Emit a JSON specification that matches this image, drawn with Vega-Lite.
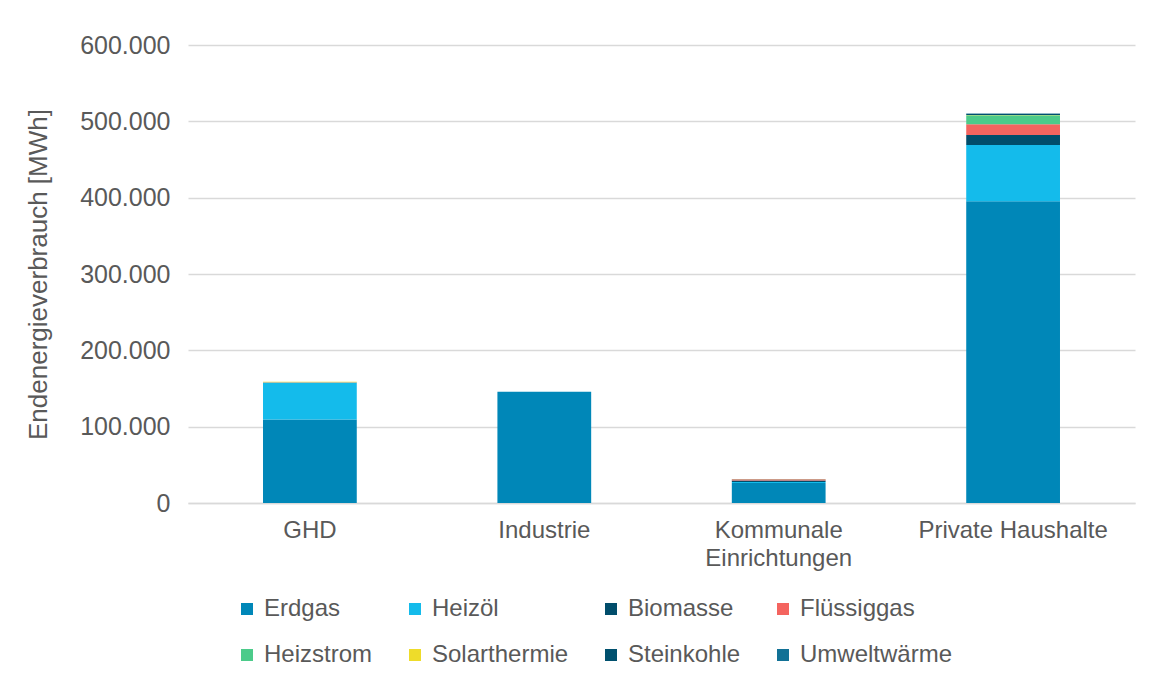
{
  "$schema": "https://vega.github.io/schema/vega-lite/v6.json",
  "width": 947,
  "height": 458,
  "autosize": {"type": "none"},
  "padding": {"left": 188, "top": 45, "right": 14, "bottom": 177},
  "background": "white",
  "data": {
    "values": [
      {"sektor": "GHD", "traeger": "Erdgas", "idx": 1, "mwh": 109500},
      {"sektor": "GHD", "traeger": "Heizöl", "idx": 2, "mwh": 48300},
      {"sektor": "GHD", "traeger": "Flüssiggas", "idx": 4, "mwh": 300},
      {"sektor": "GHD", "traeger": "Solarthermie", "idx": 6, "mwh": 700},
      {"sektor": "Industrie", "traeger": "Erdgas", "idx": 1, "mwh": 145800},
      {"sektor": "Kommunale Einrichtungen", "traeger": "Erdgas", "idx": 1, "mwh": 26100},
      {"sektor": "Kommunale Einrichtungen", "traeger": "Heizöl", "idx": 2, "mwh": 1400},
      {"sektor": "Kommunale Einrichtungen", "traeger": "Biomasse", "idx": 3, "mwh": 2000},
      {"sektor": "Kommunale Einrichtungen", "traeger": "Flüssiggas", "idx": 4, "mwh": 1500},
      {"sektor": "Kommunale Einrichtungen", "traeger": "Heizstrom", "idx": 5, "mwh": 500},
      {"sektor": "Private Haushalte", "traeger": "Erdgas", "idx": 1, "mwh": 395400},
      {"sektor": "Private Haushalte", "traeger": "Heizöl", "idx": 2, "mwh": 73600},
      {"sektor": "Private Haushalte", "traeger": "Biomasse", "idx": 3, "mwh": 13100},
      {"sektor": "Private Haushalte", "traeger": "Flüssiggas", "idx": 4, "mwh": 14000},
      {"sektor": "Private Haushalte", "traeger": "Heizstrom", "idx": 5, "mwh": 11800},
      {"sektor": "Private Haushalte", "traeger": "Solarthermie", "idx": 6, "mwh": 400},
      {"sektor": "Private Haushalte", "traeger": "Steinkohle", "idx": 7, "mwh": 1500},
      {"sektor": "Private Haushalte", "traeger": "Umweltwärme", "idx": 8, "mwh": 500}
    ]
  },
  "mark": {"type": "bar"},
  "encoding": {
    "x": {
      "field": "sektor",
      "type": "nominal",
      "sort": ["GHD", "Industrie", "Kommunale Einrichtungen", "Private Haushalte"],
      "scale": {"paddingInner": 0.6, "paddingOuter": 0.32},
      "axis": {
        "title": null,
        "labelAngle": 0,
        "ticks": false,
        "domain": true,
        "domainColor": "#d9d9d9",
        "domainWidth": 1.3,
        "labelPadding": 15,
        "labelFontSize": 24,
        "labelLineHeight": 28,
        "labelLimit": 400,
        "labelExpr": "datum.label == 'Kommunale Einrichtungen' ? ['Kommunale', 'Einrichtungen'] : datum.label"
      }
    },
    "y": {
      "field": "mwh",
      "type": "quantitative",
      "stack": "zero",
      "scale": {"domain": [0, 600000], "nice": false},
      "axis": {
        "title": "Endenergieverbrauch [MWh]",
        "values": [0, 100000, 200000, 300000, 400000, 500000, 600000],
        "format": ",d",
        "ticks": false,
        "domain": false,
        "labelPadding": 18,
        "labelFontSize": 25,
        "titleFontSize": 26,
        "titleFontWeight": "normal",
        "titlePadding": 28,
        "gridColor": "#d9d9d9",
        "gridWidth": 1.3
      }
    },
    "color": {
      "field": "traeger",
      "type": "nominal",
      "sort": ["Erdgas", "Heizöl", "Biomasse", "Flüssiggas", "Heizstrom", "Solarthermie", "Steinkohle", "Umweltwärme"],
      "scale": {
        "domain": ["Erdgas", "Heizöl", "Biomasse", "Flüssiggas", "Heizstrom", "Solarthermie", "Steinkohle", "Umweltwärme"],
        "range": ["#0087b8", "#14bbeb", "#014d6b", "#f4645f", "#4ccb8a", "#eedc2a", "#00506e", "#127196"]
      },
      "legend": {
        "title": null,
        "orient": "none",
        "legendX": 47,
        "legendY": 552,
        "direction": "horizontal",
        "columns": 4,
        "gridAlign": "each",
        "columnPadding": 30,
        "rowPadding": 22,
        "symbolType": "square",
        "symbolSize": 144,
        "symbolStrokeWidth": 0,
        "labelFontSize": 24,
        "labelOffset": 5,
        "labelLimit": 250
      }
    },
    "order": {"field": "idx", "type": "quantitative", "sort": "ascending"}
  },
  "config": {
    "locale": {
      "number": {"decimal": ",", "thousands": ".", "grouping": [3], "currency": ["", " €"]}
    },
    "font": "Liberation Sans",
    "view": {"stroke": null},
    "axis": {
      "labelColor": "#595959",
      "titleColor": "#595959",
      "labelFont": "Liberation Sans",
      "titleFont": "Liberation Sans"
    },
    "legend": {"labelColor": "#595959", "labelFont": "Liberation Sans"}
  }
}
